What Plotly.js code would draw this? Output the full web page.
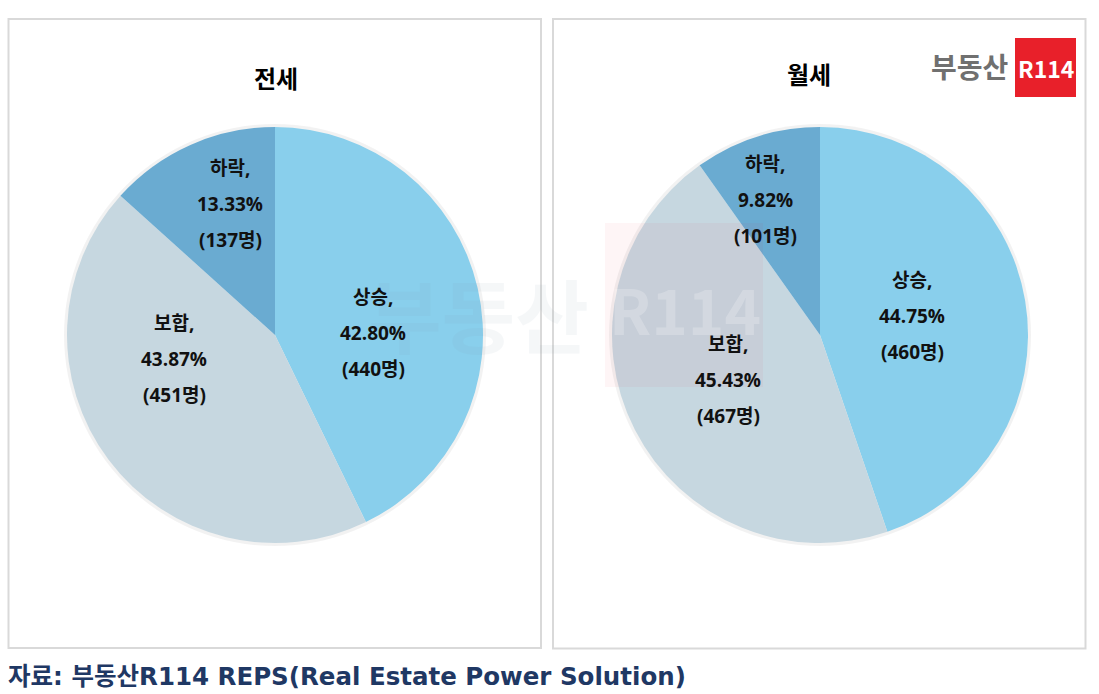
<!DOCTYPE html>
<html><head><meta charset="utf-8">
<script src="https://cdn.plot.ly/plotly-3.0.1.min.js"></script>
<style>html,body{margin:0;padding:0;background:#fff}#chart{width:1099px;height:694px}</style>
</head><body><div id="chart"></div>
<script>
// ---- data ----
const categories = ['상승', '보합', '하락'];
const jeonsePct = [42.80, 43.87, 13.33];
const jeonseCnt = [440, 451, 137];
const wolsePct = [44.75, 45.43, 9.82];
const wolseCnt = [460, 467, 101];
const chartTitles = ['전세', '월세'];
const sourceText = '자료: 부동산R114 REPS(Real Estate Power Solution)';

// ---- styles / layout ----
const W = 1099, H = 694;
const colors = ['#89CFEC', '#C6D7E0', '#6AABD1'];
const FONT = '"Noto Sans CJK KR", "Noto Sans", sans-serif';
const LFONT = '"Open Sans", "Noto Sans CJK KR", sans-serif';
const SFONT = '"DejaVu Sans", "Noto Sans CJK KR", sans-serif';
const px = x => x / W, py = y => 1 - y / H;
const pies = [
  {cx: 275, cy: 335, r: 208, title: [276, 77],
   labels: [[373, 333], [174, 359], [230, 204]]},
  {cx: 820, cy: 335, r: 208, title: [809, 74],
   labels: [[912, 316], [728, 380], [765, 200]]}
];
const datasets = [[jeonsePct, jeonseCnt], [wolsePct, wolseCnt]];

const traces = datasets.map((d, i) => {
  const p = pies[i];
  return {
    type: 'pie', labels: categories, values: d[0], sort: false,
    direction: 'clockwise', rotation: 0,
    marker: {colors: colors, line: {width: 0}},
    textinfo: 'none', hoverinfo: 'none', showlegend: false,
    domain: {x: [px(p.cx - p.r), px(p.cx + p.r)], y: [py(p.cy + p.r), py(p.cy - p.r)]}
  };
});

const annotations = [];
const shapes = [];
// panel borders
shapes.push({type: 'rect', xref: 'paper', yref: 'paper', x0: px(8.5), x1: px(541), y0: py(648), y1: py(19),
  line: {color: '#D9D9D9', width: 2}, fillcolor: 'rgba(0,0,0,0)', layer: 'below'});
shapes.push({type: 'rect', xref: 'paper', yref: 'paper', x0: px(553), x1: px(1085.5), y0: py(648.5), y1: py(19),
  line: {color: '#D9D9D9', width: 2}, fillcolor: 'rgba(0,0,0,0)', layer: 'below'});
// faint pie shadow ring
pies.forEach(p => {
  shapes.push({type: 'circle', xref: 'paper', yref: 'paper', x0: px(p.cx - p.r - 3), x1: px(p.cx + p.r + 3),
    y0: py(p.cy + p.r + 3), y1: py(p.cy - p.r - 3), line: {width: 0}, fillcolor: 'rgba(0,0,0,0.05)', layer: 'below'});
});

// watermark (drawn first so labels sit on top)
shapes.push({type: 'rect', xref: 'paper', yref: 'paper', x0: px(605), x1: px(763), y0: py(387), y1: py(223),
  line: {width: 0}, fillcolor: 'rgba(232,32,42,0.045)', layer: 'above'});
annotations.push({xref: 'paper', yref: 'paper', x: px(478), y: py(312), text: '<b>부동산</b>', showarrow: false,
  xanchor: 'center', yanchor: 'middle', font: {family: FONT, size: 80, color: '#7C98AC'}, opacity: 0.07});
annotations.push({xref: 'paper', yref: 'paper', x: px(685), y: py(308), text: '<b>R114</b>', showarrow: false,
  xanchor: 'center', yanchor: 'middle', font: {family: FONT, size: 62, color: '#ffffff'}, opacity: 0.22});

datasets.forEach((d, i) => {
  const p = pies[i];
  annotations.push({xref: 'paper', yref: 'paper', x: px(p.title[0]), y: py(p.title[1]), text: '<b>' + chartTitles[i] + '</b>',
    showarrow: false, xanchor: 'center', yanchor: 'middle', font: {family: FONT, size: 24, color: '#000'}});
  categories.forEach((c, k) => {
    const lines = [c + ',', d[0][k].toFixed(2) + '%', '(' + d[1][k] + '명)'];
    lines.forEach((t, j) => {
      annotations.push({xref: 'paper', yref: 'paper', x: px(p.labels[k][0]), y: py(p.labels[k][1] + (j - 1) * 36),
        text: '<b>' + t + '</b>', showarrow: false, xanchor: 'center', yanchor: 'middle',
        font: {family: LFONT, size: 19, color: '#111'}});
    });
  });
});

// logo
shapes.push({type: 'rect', xref: 'paper', yref: 'paper', x0: px(1015), x1: px(1076), y0: py(97), y1: py(38),
  line: {width: 0}, fillcolor: '#E8202A', layer: 'above'});
annotations.push({xref: 'paper', yref: 'paper', x: px(1045.5), y: py(68), text: '<b>R114</b>', showarrow: false,
  xanchor: 'center', yanchor: 'middle', font: {family: FONT, size: 23, color: '#ffffff'}});
annotations.push({xref: 'paper', yref: 'paper', x: px(1010), y: py(66), text: '<b>부동산</b>', showarrow: false,
  xanchor: 'right', yanchor: 'middle', font: {family: FONT, size: 28, color: '#707070'}});

// source
annotations.push({xref: 'paper', yref: 'paper', x: px(6), y: py(676), text: '<b>' + sourceText + '</b>', showarrow: false,
  xanchor: 'left', yanchor: 'middle', font: {family: SFONT, size: 24.5, color: '#1F3864'}});

Plotly.newPlot('chart', traces, {
  width: W, height: H, margin: {l: 0, r: 0, t: 0, b: 0},
  paper_bgcolor: '#fff', plot_bgcolor: '#fff',
  shapes: shapes, annotations: annotations, showlegend: false
}, {displayModeBar: false, staticPlot: true});
</script></body></html>
